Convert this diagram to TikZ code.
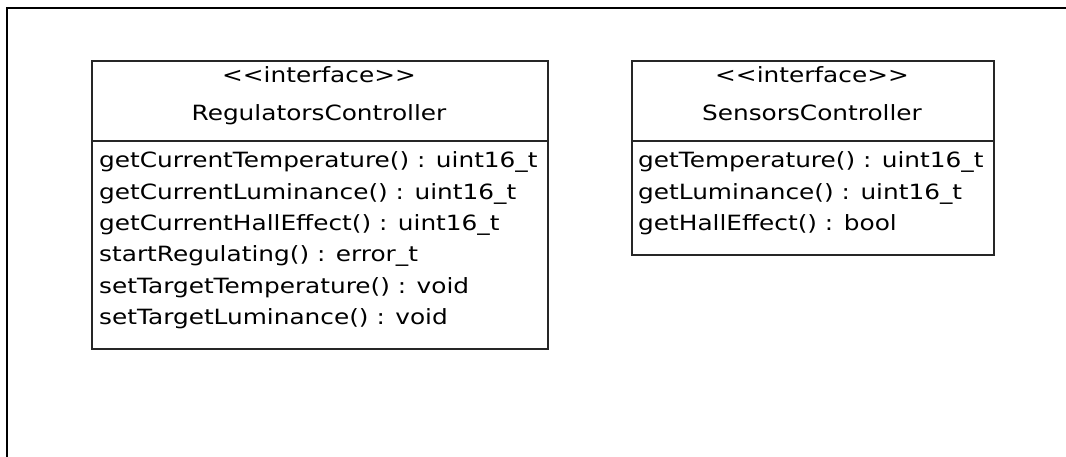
\documentclass[tikz,border=0pt]{standalone}
\usepackage{fontspec}
\setmainfont{DejaVu Sans}[Ligatures=TeXOff, FakeStretch=1.18]
\begin{document}
\begin{tikzpicture}[x=1pt, y=-1pt,
  frame/.style={line width=2.6pt, draw=black},
  classbox/.style={draw=black!85, line width=1.6pt, fill=white, inner sep=0pt, anchor=north west},
  divider/.style={draw=black!85, line width=1.6pt},
  headtext/.style={anchor=base, inner sep=0pt, font=\fontsize{21}{25}\selectfont},
  membertext/.style={anchor=base west, inner sep=0pt, font=\fontsize{21}{25}\selectfont}]
  \useasboundingbox (0,0) rectangle (1066,457);
  \fill[white] (0,0) rectangle (1066,457);

  % diagram frame (only its top and left edges fall inside the page)
  \coordinate (frameBL) at (7,470);
  \coordinate (frameTL) at (7,8);
  \coordinate (frameTR) at (1080,8);
  \draw[frame] (frameBL) -- (frameTL) -- (frameTR);

  % ---- RegulatorsController ----
  \node[classbox, minimum width=456pt, minimum height=288pt] (reg) at (91,60) {};
  \coordinate (regSepL) at (91,141);
  \coordinate (regSepR) at (547,141);
  \draw[divider] (regSepL) -- (regSepR);
  \node[headtext] (regStereo) at (319,83) {<<interface>>};
  \node[headtext] (regName) at (319,121) {RegulatorsController};
  \node[membertext] (regA) at (99,168.0) {getCurrentTemperature() : uint16\_t};
  \node[membertext] (regB) at (99,199.3) {getCurrentLuminance() : uint16\_t};
  \node[membertext] (regC) at (99,230.6) {getCurrentHallEffect() : uint16\_t};
  \node[membertext] (regD) at (99,261.9) {startRegulating() : error\_t};
  \node[membertext] (regE) at (99,293.2) {setTargetTemperature() : void};
  \node[membertext] (regF) at (99,324.5) {setTargetLuminance() : void};

  % ---- SensorsController ----
  \node[classbox, minimum width=362pt, minimum height=194pt] (sen) at (631,60) {};
  \coordinate (senSepL) at (631,141);
  \coordinate (senSepR) at (993,141);
  \draw[divider] (senSepL) -- (senSepR);
  \node[headtext] (senStereo) at (812,83) {<<interface>>};
  \node[headtext] (senName) at (812,121) {SensorsController};
  \node[membertext] (senA) at (638,168.0) {getTemperature() : uint16\_t};
  \node[membertext] (senB) at (638,199.3) {getLuminance() : uint16\_t};
  \node[membertext] (senC) at (638,230.6) {getHallEffect() : bool};
\end{tikzpicture}
\end{document}
